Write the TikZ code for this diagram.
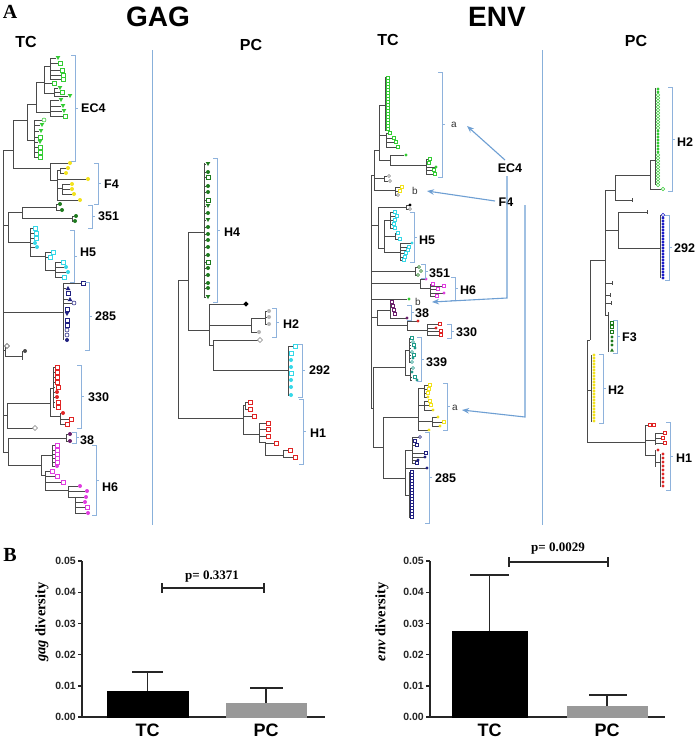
\documentclass[tikz,border=0pt]{standalone}
\usepackage{fontspec}
\setmainfont{Liberation Serif}
\setsansfont{Liberation Sans}
\usetikzlibrary{arrows.meta}
\definecolor{lg}{HTML}{33CC33}
\definecolor{yl}{HTML}{F2E21C}
\definecolor{dg}{HTML}{1E7A1E}
\definecolor{cy}{HTML}{35D8E8}
\definecolor{nv}{HTML}{202080}
\definecolor{rd}{HTML}{E02424}
\definecolor{pu}{HTML}{6B1F6B}
\definecolor{mg}{HTML}{E03CE0}
\definecolor{gy}{HTML}{B4B4B4}
\definecolor{tl}{HTML}{1F9A8A}
\definecolor{bl}{HTML}{1C1CC8}
\definecolor{brc}{HTML}{8EB2DC}
\definecolor{sep}{HTML}{88B0DA}
\definecolor{arr}{HTML}{6E9FD3}
\definecolor{tcol}{HTML}{4A4A4A}
\def\mksz{4}
\newcommand\mksq[3]{\draw[draw=#1,fill=white,line width=0.55pt] ({#2-\mksz/2},{#3-\mksz/2}) rectangle ++(\mksz,\mksz);}
\newcommand\mkdot[3]{\fill[#1] (#2,#3) circle ({\mksz/2});}
\newcommand\mkcir[3]{\draw[draw=#1,fill=white,line width=0.55pt] (#2,#3) circle ({\mksz/2});}
\newcommand\mktri[3]{\fill[#1] ({#2-\mksz/2-0.3},{#3-\mksz/2}) -- ({#2+\mksz/2+0.3},{#3-\mksz/2}) -- (#2,{#3+\mksz/2}) -- cycle;}
\newcommand\mktru[3]{\fill[#1] ({#2-\mksz/2-0.3},{#3+\mksz/2}) -- ({#2+\mksz/2+0.3},{#3+\mksz/2}) -- (#2,{#3-\mksz/2}) -- cycle;}
\newcommand\mkdia[3]{\fill[#1] (#2,{#3-\mksz/2-0.6}) -- ({#2+\mksz/2+0.6},#3) -- (#2,{#3+\mksz/2+0.6}) -- ({#2-\mksz/2-0.6},#3) -- cycle;}
\newcommand\mkodia[3]{\draw[draw=#1,fill=white,line width=0.55pt] (#2,{#3-\mksz/2-0.6}) -- ({#2+\mksz/2+0.6},#3) -- (#2,{#3+\mksz/2+0.6}) -- ({#2-\mksz/2-0.6},#3) -- cycle;}
\newcommand\mks[2]{\foreach \mt/\x/\y in {#2} {\csname mk\mt\endcsname{#1}{\x}{\y}}}
\newcommand\brk[3]{\draw[brk] ({#1-4},#2) -- (#1,#2) -- (#1,#3) -- ({#1-4},#3); \draw[brk] (#1,{(#2+#3)/2}) -- ({#1+3},{(#2+#3)/2});}
\begin{document}
\begin{tikzpicture}[x=1pt,y=-1pt,
  tr/.style={draw=tcol,line width=0.8pt},
  brk/.style={draw=brc,line width=0.9pt},
  cl/.style={font=\sffamily\bfseries\fontsize{12.5}{13}\selectfont,inner sep=0pt,anchor=west},
  sm/.style={font=\sffamily\fontsize{10}{10}\selectfont,inner sep=0pt,anchor=west,text=black!80},
  hd/.style={font=\sffamily\bfseries\fontsize{16}{16}\selectfont,inner sep=0pt},
  arw/.style={draw=arr,line width=1.1pt,-{Stealth[length=7pt,width=5.5pt]}},
  ax/.style={draw=black!85,line width=1.4pt},
  err/.style={draw=black!85,line width=1.8pt},
  tk/.style={font=\sffamily\bfseries\fontsize{10.5}{11}\selectfont,inner sep=0pt,anchor=east,text=black!85},
  bl2/.style={font=\sffamily\bfseries\fontsize{18}{18}\selectfont,inner sep=0pt}]
\useasboundingbox (0,0) rectangle (696,742);
\fill[white] (0,0) rectangle (696,742);

% ---------- headings ----------
\node[font=\bfseries\fontsize{20}{20}\selectfont,inner sep=0pt] (hA) at (10,12) {A};
\node[font=\sffamily\bfseries\fontsize{28}{28}\selectfont,inner sep=0pt] (hGAG) at (158,17) {GAG};
\node[font=\sffamily\bfseries\fontsize{28}{28}\selectfont,inner sep=0pt] (hENV) at (497,17) {ENV};
\node[hd] (hTC1) at (26,42) {TC};
\node[hd] (hPC1) at (251,45) {PC};
\node[hd] (hTC2) at (388,40) {TC};
\node[hd] (hPC2) at (636,41) {PC};
\draw[draw=sep,line width=0.9pt] (152,50) -- (152,525);
\draw[draw=sep,line width=0.9pt] (542,50) -- (542,525);

% ================= GAG TC =================
\draw[tr] (3,150)--(3,452) (3,150)--(13,150) (13,120)--(13,168)
 (13,120)--(27,120) (27,104)--(27,140)
 (27,140)--(34,140) (34,120)--(34,157)
 (34,120)--(41.5,120) (34,125)--(39.5,125) (34,131)--(38.5,131) (34,137)--(37.5,137) (34,142)--(37.5,142) (34,147)--(37.5,147) (34,152)--(37.5,152) (34,157)--(37.5,157)
 (27,104)--(36,104) (36,82)--(36,112)
 (36,112)--(50,112) (50,100)--(50,116) (50,100)--(58.5,100) (50,106)--(60.5,106) (50,111)--(61.5,111) (50,116)--(62.5,116)
 (36,82)--(44,82) (44,66)--(44,93)
 (44,66)--(50,66) (50,58)--(50,79) (50,58)--(55.5,58) (50,63)--(57.5,63) (50,70)--(59.5,70) (50,75)--(60.5,75) (50,79)--(60.5,79)
 (44,83)--(51.5,83)
 (44,93)--(54,93) (54,88)--(54,96) (54,88)--(57.5,88) (54,92)--(59.5,92) (54,96)--(67.5,96)
 % F4
 (13,168)--(50,168) (50,163)--(50,180) (50,163)--(67.5,163) (50,180)--(57,180)
 (57,170)--(57,200) (57,170)--(60,170) (60,168)--(60,173) (60,168)--(65.5,168) (60,173)--(63.5,173)
 (57,179)--(85.5,179) (57,188)--(62,188) (62,184)--(62,194) (62,184)--(69.5,184) (62,189)--(69.5,189) (62,194)--(71.5,194) (57,200)--(77.5,200)
 % 351
 (3,225)--(8,225) (8,212)--(8,242) (8,212)--(22,212) (22,207)--(22,218)
 (22,207)--(56,207) (56,204)--(56,210) (56,204)--(58,204) (56,210)--(60,210)
 (22,218)--(72,218) (72,216)--(72,221) (72,216)--(74,216) (72,221)--(73,221)
 % H5
 (8,242)--(30,242) (30,228)--(30,256) (30,228)--(32.5,228) (30,233)--(33.5,233) (30,238)--(33.5,238) (30,243)--(32.5,243) (30,247)--(34.5,247)
 (30,256)--(45,256) (45,252)--(45,270) (45,252)--(50.5,252) (45,257)--(47.5,257)
 (45,270)--(55,270) (55,262)--(55,277) (55,262)--(60.5,262) (55,267)--(63.5,267) (55,272)--(65.5,272) (55,277)--(61.5,277)
 % 285
 (3,312)--(63,312) (63,283)--(63,340) (63,283)--(80.5,283) (63,288)--(65.5,288) (63,299)--(67.5,299) (63,303)--(71.5,303)
 % black
 (3,350)--(5,350) (5,346)--(5,356) (5,356)--(22,356) (22,351)--(22,360) (22,351)--(23,351)
 % 330
 (3,415)--(7,415) (7,403)--(7,428) (7,403)--(50,403) (7,428)--(33,428)
 (50,388)--(50,416) (50,388)--(53,388) (53,367)--(53,408)
 (50,416)--(60,416) (60,413)--(60,424) (60,419)--(68.5,419) (60,424)--(64.5,424)
 % 38
 (3,452)--(8,452) (8,438)--(8,465) (8,438)--(66,438) (66,434)--(66,441) (66,434)--(68,434) (66,441)--(68,441)
 % H6
 (8,465)--(41,465) (41,455)--(41,475) (41,455)--(52,455) (52,445)--(52,466)
 (41,475)--(45,475) (45,471)--(45,490) (45,471)--(49.5,471) (45,476)--(54.5,476) (45,482)--(60.5,482)
 (45,490)--(68,490) (68,486)--(68,497) (68,486)--(77.5,486) (68,491)--(84.5,491) (68,497)--(75,497) (75,497)--(75,513) (75,497)--(83.5,497) (75,502)--(82.5,502) (75,507)--(84.5,507) (75,513)--(85.5,513);
\foreach \y in {367,372,377,382,387,392,397,402,407}{\draw[tr] (53,\y)--(55,\y);}
\foreach \y in {445,450,454,458,462,466}{\draw[tr] (52,\y)--(55,\y);}
\def\mksz{4}
\mks{lg}{tri/58/58, sq/60/63, sq/62/70, sq/63/75, sq/63/79, sq/54/83, tri/60/88, sq/62/92, tri/70/96, tri/61/100, tri/63/106, tri/64/111, sq/65/116, cir/44/120, tri/42/125, tri/41/131, sq/40/137, tri/40/142, sq/40/147, sq/40/152, sq/40/157}
\mks{yl}{dot/70/163, dot/68/168, dot/66/173, dot/88/179, dot/72/184, dot/72/189, dot/74/194, dot/80/200}
\mks{dg}{dot/60/204, dot/62/210, dot/76/216, dot/75/221}
\mks{cy}{sq/35/228, sq/36/233, sq/36/238, dot/35/243, dot/37/247, sq/53/252, sq/50/257, sq/63/262, dot/66/267, dot/68/272, sq/64/277}
\mks{nv}{sq/83/283, tru/68/288, sq/68/293, tru/70/299, cir/74/303, sq/67/309, tri/67/314, sq/67/320, sq/67/325, cir/67/330, cir/67/335, dot/67/340}
\mks{tcol}{odia/7/346, dot/25/351}
\mks{rd}{sq/57/367, sq/57/372, sq/57/377, sq/57/382, sq/58/387, dot/57/392, dot/57/397, sq/58/402, sq/58/407, dot/63/413, sq/71/419, sq/67/424}
\mks{gray}{odia/35/428}
\mks{pu}{dot/70/434, dot/70/441}
\mks{mg}{sq/57/445, sq/57/450, sq/57/454, sq/57/458, sq/57/462, dot/57/466, sq/52/471, sq/57/476, sq/63/482, dot/80/486, dot/87/491, dot/86/497, dot/85/502, sq/87/507, dot/88/513}
\brk{75}{55}{161} \node[cl] (gEC4) at (81,108) {EC4};
\brk{98}{163}{204} \node[cl] (gF4) at (104,184) {F4};
\brk{92}{205}{228} \node[cl] (g351) at (98,216) {351};
\brk{74}{230}{282} \node[cl] (gH5) at (80,252) {H5};
\brk{89}{282}{350} \node[cl] (g285) at (95,316) {285};
\brk{81}{365}{428} \node[cl] (g330) at (88,397) {330};
\brk{76}{432}{443} \node[cl] (g38) at (80,440) {38};
\brk{96}{445}{515} \node[cl] (gH6) at (102,487) {H6};

% ================= GAG PC =================
\draw[tr] (178,280)--(178,418) (178,280)--(188,280) (188,232)--(188,330) (188,232)--(204,232) (204,163)--(204,297)
 (188,330)--(209,330) (209,304)--(209,345) (209,304)--(243.5,304) (209,325)--(251,325) (251,318)--(251,332) (251,318)--(265,318) (265,311)--(265,324) (265,311)--(267,311) (265,317)--(267,317) (265,324)--(267,324) (251,332)--(257,332)
 (209,345)--(213,345) (213,340)--(213,370) (213,340)--(257.5,340) (213,370)--(288,370) (288,346)--(288,395)
 (178,418)--(243,418) (243,405)--(243,434) (243,405)--(245,405) (245,402)--(245,409) (245,402)--(247.5,402) (245,409)--(247.5,409) (243,416)--(251.5,416) (243,434)--(259,434) (259,423)--(259,442) (259,423)--(265.5,423) (259,429)--(265.5,429) (259,436)--(265.5,436) (259,442)--(265,442) (265,442)--(265,455) (265,443)--(273.5,443) (265,455)--(283,455) (283,450)--(283,457) (283,450)--(287.5,450) (283,457)--(292.5,457);
\foreach \y in {164,172,177,186,192,200,206,213,220,227,234,240,247,255,262,268,275,283,288,297}{\draw[tr] (204,\y)--(206,\y);}
\foreach \y in {353,360,367,373,380,387,395}{\draw[tr] (288,\y)--(289,\y);}
\draw[tr] (288,346)--(293,346);
\mks{dg}{tri/208/164, dot/208/172, sq/208/177, dot/208/186, dot/208/192, sq/208/200, tri/208/206, dot/208/213, tri/208/220, dot/208/227, dot/208/234, dot/208/240, dot/208/247, dot/208/255, sq/208/262, dot/208/268, dot/208/275, dot/208/283, dot/208/288, tri/208/297}
\mks{black}{dia/246/304}
\mks{gy}{dot/269/311, dot/269/317, dot/269/324, dot/259/332}
\mks{gray}{odia/260/340}
\mks{cy}{sq/295/346, sq/291/353, dot/291/360, dot/291/367, sq/291/373, dot/291/380, dot/291/387, dot/291/395}
\mks{rd}{sq/250/402, sq/250/409, sq/254/416, sq/268/423, sq/268/429, sq/268/436, sq/276/443, sq/290/450, sq/295/457}
\brk{217}{158}{302} \node[cl] (pH4) at (224,232) {H4};
\brk{276}{308}{337} \node[cl] (pH2) at (283,324) {H2};
\brk{302}{344}{397} \node[cl] (p292) at (309,370) {292};
\brk{303}{399}{464} \node[cl] (pH1) at (310,433) {H1};

% ================= ENV TC =================
\draw[tr] (371,175)--(371,408) (371,175)--(374,175) (374,150)--(374,190)
 (374,150)--(379,150) (379,105)--(379,160) (379,105)--(385,105) (385,77)--(385,131)
 (379,135)--(386,135) (386,133)--(386,147) (386,133)--(388.5,133) (386,138)--(392.5,138) (386,142)--(394.5,142) (386,147)--(396.5,147)
 (379,160)--(390,160) (390,155)--(390,165) (390,155)--(404,155) (390,165)--(426,165) (426,159)--(426,174) (426,159)--(428.5,159) (426,163)--(427.5,163) (426,167)--(434.5,167) (426,170)--(432.5,170) (426,174)--(433.5,174)
 (374,178)--(384,178) (384,176)--(384,181) (384,176)--(387,176) (384,181)--(388,181)
 (374,190)--(395,190) (395,187)--(395,195) (395,187)--(400.5,187) (395,191)--(398.5,191) (395,195)--(396.5,195)
 (371,225)--(378,225) (378,207)--(378,248) (378,207)--(406,207) (406,205)--(406,209) (406,205)--(408.5,205) (406,209)--(408.5,209)
 (378,248)--(384,248) (384,220)--(384,252) (384,220)--(390,220) (390,212)--(390,228) (390,212)--(393.5,212) (390,216)--(395.5,216) (390,220)--(393.5,220) (390,224)--(392.5,224) (390,228)--(393.5,228)
 (384,236)--(395,236) (395,233)--(395,239) (395,233)--(396.5,233) (395,239)--(398.5,239)
 (384,252)--(400,252) (400,243)--(400,260) (400,243)--(410.5,243) (400,247)--(407.5,247) (400,250)--(406.5,250) (400,253)--(404.5,253) (400,257)--(403.5,257) (400,260)--(402.5,260)
 (371,271)--(415,271) (415,267)--(415,275) (415,267)--(417.5,267) (415,275)--(416.5,275)
 (371,283)--(420,283) (420,279)--(420,288) (420,279)--(424.5,279) (420,288)--(430,288) (430,284)--(430,296) (430,284)--(431.5,284) (430,286)--(442.5,286) (430,289)--(436.5,289) (430,293)--(442.5,293) (430,296)--(435.5,296)
 (371,299)--(407,299)
 (371,317)--(377,317) (377,310)--(377,325) (377,310)--(390,310) (390,302)--(390,318) (390,318)--(405.5,318)
 (377,325)--(407,325) (407,321)--(407,330) (407,321)--(416.5,321) (407,330)--(427,330) (427,324)--(427,335) (427,324)--(438.5,324) (427,328)--(434.5,328) (427,331)--(439.5,331) (427,335)--(439.5,335)
 (371,408)--(373,408) (373,367)--(373,447)
 (373,367)--(405,367) (405,350)--(405,375) (405,350)--(409,350) (409,338)--(409,362) (405,375)--(410,375) (410,368)--(410,380)
 (373,447)--(383,447) (383,417)--(383,478) (383,417)--(418,417) (418,388)--(418,430)
 (418,388)--(424,388) (424,385)--(424,397) (424,385)--(428.5,385) (424,389)--(427.5,389) (424,393)--(426.5,393) (424,397)--(426.5,397)
 (418,405)--(424,405) (424,401)--(424,410) (424,401)--(428.5,401) (424,405)--(429.5,405) (424,410)--(431.5,410)
 (418,421)--(432,421) (432,417)--(432,426) (432,417)--(436.5,417) (432,422)--(442.5,422) (432,426)--(438.5,426) (418,430)--(427.5,430)
 (383,478)--(405,478) (405,450)--(405,495) (405,450)--(412,450) (412,437)--(412,463) (412,437)--(418.5,437) (412,441)--(413.5,441) (412,445)--(415.5,445) (412,453)--(424.5,453) (412,457)--(423.5,457) (412,460)--(416.5,460) (412,463)--(415.5,463)
 (405,468)--(425.5,468) (405,495)--(409,495) (409,472)--(409,518);
\foreach \y in {338,342,345,348,352,355,358,362}{\draw[tr] (409,\y)--(411,\y);}
\foreach \y in {368,372,377,380}{\draw[tr] (410,\y)--(412,\y);}
\def\mksz{2.6}
\foreach \y in {78,81,...,129}{\mksq{lg}{388}{\y}}
\foreach \y in {472,475,...,517}{\mksq{nv}{411.5}{\y}}
\def\mksz{3.2}
\mks{lg}{sq/390/133, sq/394/138, sq/396/142, sq/398/147, dot/406/155, sq/430/159, sq/429/163, dot/436/167, sq/434/170, sq/435/174, dot/409/299}
\mks{gray}{cir/389/176, cir/390/181, cir/398/195, cir/410/209}
\mks{yl}{sq/402/187, sq/400/191}
\mks{black}{dot/410/205}
\mks{cy}{sq/395/212, sq/397/216, sq/395/220, sq/394/224, sq/395/228, sq/398/233, sq/400/239, dot/412/243, sq/409/247, sq/408/250, sq/406/253, sq/405/257, sq/404/260}
\mks{dg}{cir/419/267, cir/421/271, cir/418/275}
\mks{mg}{dot/426/279, sq/433/284, sq/444/286, sq/438/289, dot/444/293, sq/437/296}
\mks{pu}{sq/392/302, sq/393/306, sq/394/310, sq/395/314, dot/407/318}
\mks{rd}{dot/418/321, sq/440/324, dot/436/328, sq/441/331, sq/441/335}
\mks{tl}{sq/412/338, cir/413/342, sq/414/345, dot/415/348, cir/412/352, sq/414/355, dot/413/358, cir/412/362, cir/413/368, dot/412/372, sq/415/377, dot/417/380}
\mks{yl}{sq/430/385, sq/429/389, sq/428/393, dot/428/397, sq/430/401, sq/431/405, dot/433/410, dot/438/417, sq/444/422, dot/440/426, dot/429/430}
\mks{nv}{cir/420/437, sq/415/441, sq/417/445, sq/426/453, dot/425/457, dot/418/460, sq/417/463, dot/427/468}
\brk{442}{72}{177} \node[sm] (ea1) at (451,125) {a};
\brk{414}{212}{262} \node[cl] (eH5) at (419,240) {H5};
\brk{425}{264}{278} \node[cl] (e351) at (429,273) {351};
\brk{455}{277}{300} \node[cl] (eH6) at (460,290) {H6};
\node[sm] (eb2) at (415,302) {b};
\node[sm] (eb1) at (412,191) {b};
\brk{411}{305}{320} \node[cl] (e38) at (415,313) {38};
\brk{451}{324}{338} \node[cl] (e330) at (456,332) {330};
\brk{421}{337}{381} \node[cl] (e339) at (426,362) {339};
\brk{447}{383}{430} \node[sm] (ea2) at (452,408) {a};
\brk{429}{432}{523} \node[cl] (e285) at (435,478) {285};
\node[cl,anchor=center] (eEC4) at (510,168) {EC4};
\node[cl,anchor=center] (eF4) at (506,202) {F4};
\coordinate (e1) at (505,160); \coordinate (tA1) at (467,126);
\coordinate (e2) at (507,176); \coordinate (e2b) at (507,298); \coordinate (tB2) at (432,302);
\coordinate (f1) at (495,201); \coordinate (tB1) at (427,191);
\coordinate (f2) at (525,205); \coordinate (f2b) at (525,417); \coordinate (tA2) at (462,410);
\draw[arw] (e1) -- (tA1);
\draw[arw] (e2) -- (e2b) -- (tB2);
\draw[arw] (f1) -- (tB1);
\draw[arw] (f2) -- (f2b) -- (tA2);

% ================= ENV PC =================
\draw[tr] (590,260)--(590,340) (587,340)--(590,340) (587,340)--(587,442) (587,442)--(645,442) (587,390)--(591,390) (591,355)--(591,422)
 (590,260)--(605,260) (605,190)--(605,315) (605,190)--(615,190) (615,175)--(615,200) (615,175)--(650,175) (650,160)--(650,189) (650,160)--(655,160) (655,88)--(655,185) (650,189)--(661,189) (615,200)--(632,200) (632,198)--(632,202)
 (605,230)--(618,230) (618,212)--(618,248) (618,212)--(647,212) (647,210)--(647,214) (618,248)--(660,248) (660,215)--(660,278)
 (605,283)--(612,283) (612,281)--(612,285) (605,295)--(610,295) (610,293)--(610,297) (605,303)--(611,303) (611,301)--(611,305) (605,315)--(608,315) (608,312)--(608,352)
 (645,425)--(645,455) (645,425)--(648,425) (645,440)--(655,440) (655,433)--(655,445) (655,433)--(663,433) (655,438)--(661,438) (655,443)--(663,443) (645,455)--(655,455) (655,450)--(655,467) (655,450)--(656,450) (655,462)--(660,462) (660,454)--(660,487);
\def\mksz{3.4}
\foreach \y in {89,92,...,185}{\ifnum\y<95 \mkdot{lg}{658}{\y}\else\ifnum\y>128 \ifnum\y<155 \mkdot{lg}{658}{\y}\else\mkcir{lg}{658}{\y}\fi\else\mkcir{lg}{658}{\y}\fi\fi}
\mkcir{lg}{663}{189}
\foreach \y in {215,218,...,278}{\ifnum\y<217 \mkcir{bl}{663}{\y}\else\mkdot{bl}{663}{\y}\fi}
\mks{dg}{sq/612/323, sq/612/327, sq/612/332, dot/612/337, dot/612/341, dot/612/345, tru/612/350}
\foreach \y in {355,358,...,421}{\mkdot{yl}{594}{\y}}
\mks{rd}{sq/650/425, sq/654/425, sq/665/433, sq/663/438, sq/665/443, dot/658/450}
\foreach \y in {454,458,...,486}{\mkdot{rd}{663}{\y}}
\brk{672}{87}{191} \node[cl] (qH2a) at (677,142) {H2};
\brk{669}{215}{280} \node[cl] (q292) at (674,248) {292};
\brk{617}{320}{353} \node[cl] (qF3) at (622,337) {F3};
\brk{603}{354}{423} \node[cl] (qH2b) at (608,390) {H2};
\brk{670}{422}{490} \node[cl] (qH1) at (676,458) {H1};

% ================= B : bar charts =================
\node[font=\bfseries\fontsize{20}{20}\selectfont,inner sep=0pt] (hB) at (10,555) {B};
% left chart
\draw[ax] (82,561)--(82,717)--(325,717);
\foreach \v/\lab [count=\i] in {0/0.00,1/0.01,2/0.02,3/0.03,4/0.04,5/0.05}{
  \draw[ax] (78,{717-31.2*\v})--(82,{717-31.2*\v});
  \node[tk] (gt\i) at (76,{717-31.2*\v}) {\lab};}
\filldraw[draw=black,fill=black,line width=1pt] (107,717) rectangle (188,691);
\filldraw[draw=gray!80,fill=black!40,line width=1pt] (226,717) rectangle (306,703);
\draw[err] (147.5,691)--(147.5,672) (132,672)--(163,672);
\draw[err] (266,703)--(266,688) (250,688)--(283,688);
\draw[ax] (162,583)--(162,593) (162,588)--(264,588) (264,583)--(264,593);
\node[font=\bfseries\fontsize{13}{13}\selectfont,inner sep=0pt] (gp) at (212,577) {p= 0.3371};
\node[rotate=90,font=\bfseries\fontsize{14.5}{15}\selectfont,inner sep=0pt] (gyl) at (42,622) {\textit{gag} diversity};
\node[bl2] (gbTC) at (147.5,730) {TC};
\node[bl2] (gbPC) at (266,730) {PC};
% right chart
\draw[ax] (430,561)--(430,717)--(665,717);
\foreach \v/\lab [count=\i] in {0/0.00,1/0.01,2/0.02,3/0.03,4/0.04,5/0.05}{
  \draw[ax] (426,{717-31.2*\v})--(430,{717-31.2*\v});
  \node[tk] (et\i) at (424,{717-31.2*\v}) {\lab};}
\filldraw[draw=black,fill=black,line width=1pt] (452,717) rectangle (527,631);
\filldraw[draw=gray!80,fill=black!40,line width=1pt] (567,717) rectangle (647,706);
\draw[err] (489.5,631)--(489.5,575) (470,575)--(509,575);
\draw[err] (607,706)--(607,695) (589,695)--(627,695);
\draw[ax] (509,557)--(509,567) (509,562)--(608,562) (608,557)--(608,567);
\node[font=\bfseries\fontsize{13}{13}\selectfont,inner sep=0pt] (ep) at (558,549) {p= 0.0029};
\node[rotate=90,font=\bfseries\fontsize{14.5}{15}\selectfont,inner sep=0pt] (eyl) at (382,622) {\textit{env} diversity};
\node[bl2] (ebTC) at (489.5,730) {TC};
\node[bl2] (ebPC) at (607,730) {PC};
\end{tikzpicture}
\end{document}
